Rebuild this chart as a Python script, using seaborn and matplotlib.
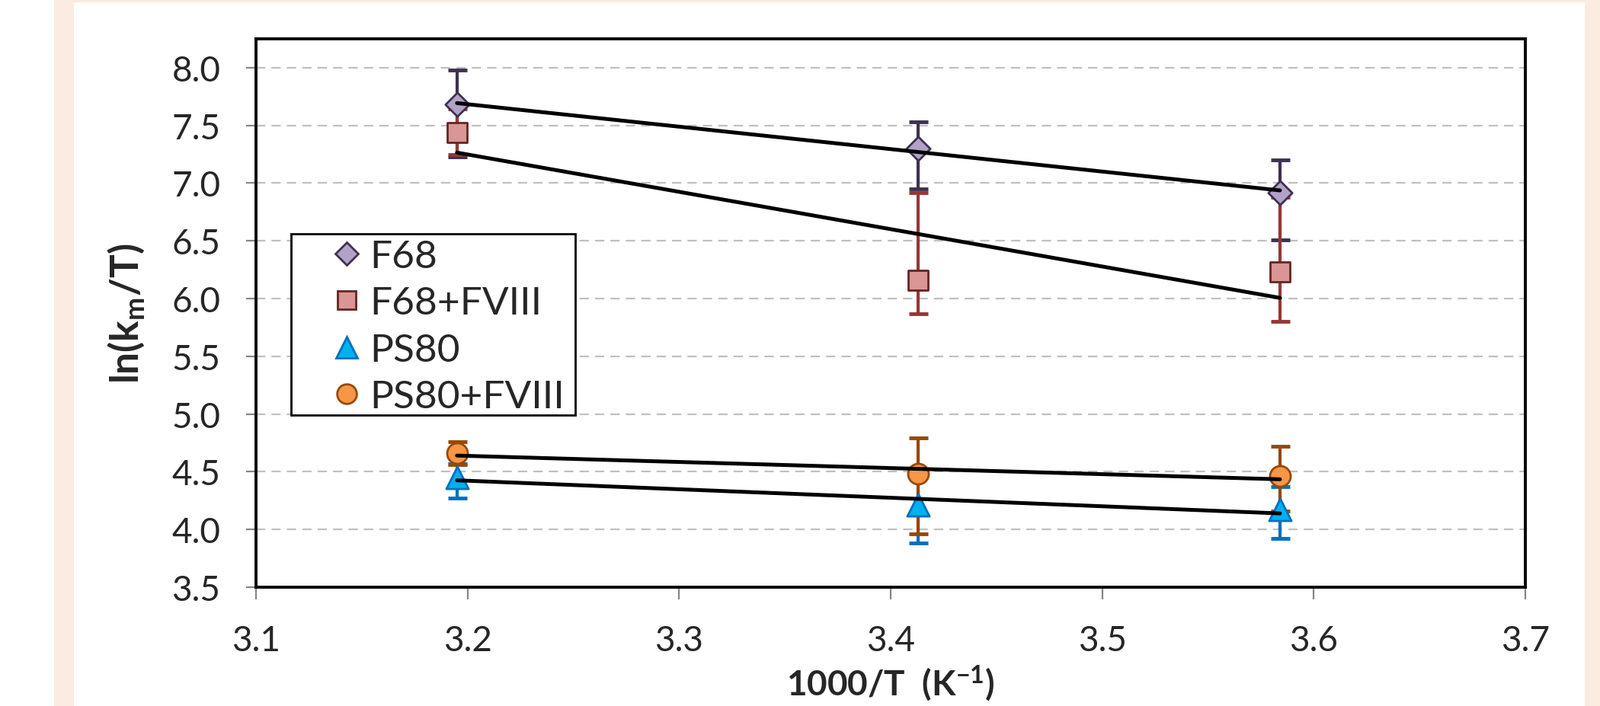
import numpy as np
import matplotlib
matplotlib.use("Agg")
import matplotlib.pyplot as plt
from matplotlib.patches import Rectangle
from matplotlib.lines import Line2D
import seaborn as sns

# ---------------- data ----------------
inv_T = [3.195, 3.413, 3.584]
series_names = ["F68", "F68+FVIII", "PS80", "PS80+FVIII"]

f68 = [7.68, 7.30, 6.92]
f68_err_lo = [0.45, 0.35, 0.41]
f68_err_hi = [0.30, 0.23, 0.28]

f68_fviii = [7.44, 6.16, 6.23]
f68_fviii_err_lo = [0.19, 0.29, 0.43]
f68_fviii_err_hi = [0.20, 0.76, 0.65]

ps80 = [4.45, 4.21, 4.17]
ps80_err_lo = [0.18, 0.33, 0.25]
ps80_err_hi = [0.12, 0.25, 0.20]

ps80_fviii = [4.66, 4.48, 4.46]
ps80_fviii_err_lo = [0.10, 0.52, 0.30]
ps80_fviii_err_hi = [0.10, 0.31, 0.26]

x_ticks = [3.1, 3.2, 3.3, 3.4, 3.5, 3.6, 3.7]
y_ticks = [3.5, 4.0, 4.5, 5.0, 5.5, 6.0, 6.5, 7.0, 7.5, 8.0]

x_label = "1000/T  (K$^{-1}$)"
y_label = "ln(k$_{\\mathrm{m}}$/T)"

# ---------------- style ----------------
sns.set_style("white")
plt.rcParams["font.family"] = ["Lato", "DejaVu Sans"]
plt.rcParams["mathtext.fontset"] = "custom"
plt.rcParams["mathtext.rm"] = "Lato:bold"
plt.rcParams["mathtext.bf"] = "Lato:bold"
plt.rcParams["mathtext.it"] = "Lato:bold"
plt.rcParams["mathtext.default"] = "regular"

styles = [
    dict(marker="D", ms=16.0, face="#b3a2c7", edge="#3f3151", err="#3f3151"),
    dict(marker="s", ms=18.5, face="#d99694", edge="#632523", err="#953735"),
    dict(marker="^", ms=21.0, face="#00b0f0", edge="#0070c0", err="#0070c0"),
    dict(marker="o", ms=19.5, face="#f79646", edge="#984807", err="#984807"),
]
values = [f68, f68_fviii, ps80, ps80_fviii]
errs = [(f68_err_lo, f68_err_hi), (f68_fviii_err_lo, f68_fviii_err_hi),
        (ps80_err_lo, ps80_err_hi), (ps80_fviii_err_lo, ps80_fviii_err_hi)]

W, H = 2100, 928
fig = plt.figure(figsize=(W / 100, H / 100), dpi=100)
fig.patch.set_facecolor("white")

# peach frame of the original slide
fig.patches.append(Rectangle((71 / W, 0), 1 - 71 / W, 1, transform=fig.transFigure,
                             facecolor="#fcebe1", edgecolor="none", zorder=-3))
fig.patches.append(Rectangle((97 / W, 0), (2080 - 97) / W, 1 - 4 / H, transform=fig.transFigure,
                             facecolor="white", edgecolor="none", zorder=-2))

ax = fig.add_axes([336 / W, 1 - 772 / H, (2002 - 336) / W, (772 - 52) / H])
ax.set_facecolor("white")

# error bars
for vals, (lo, hi), st in zip([ps80, ps80_fviii, f68, f68_fviii],
                              [errs[2], errs[3], errs[0], errs[1]],
                              [styles[2], styles[3], styles[0], styles[1]]):
    ax.errorbar(inv_T, vals, yerr=[lo, hi], fmt="none", ecolor=st["err"],
                elinewidth=3.0, capsize=9, capthick=3.5, zorder=2)

# markers
for vals, st, name in zip(values, styles, series_names):
    sns.scatterplot(x=inv_T, y=vals, marker=st["marker"], s=st["ms"] ** 2,
                    color=st["face"], edgecolor=st["edge"], linewidth=2.0,
                    zorder=3, ax=ax, legend=False)

# linear trendlines
for vals in values:
    sns.regplot(x=inv_T, y=vals, scatter=False, ci=None, truncate=True, ax=ax,
                line_kws=dict(color="black", lw=3.6, zorder=4, solid_capstyle="round"))

ax.set_xlim(3.1, 3.7)
ax.set_ylim(3.5, 8.25)
ax.set_xticks(x_ticks)
ax.set_xticklabels([f"{v:.1f}" for v in x_ticks])
ax.set_yticks(y_ticks)
ax.set_yticklabels([f"{v:.1f}" for v in y_ticks])

ax.yaxis.grid(True, color="#c0c0c0", lw=1.6, linestyle=(0, (5.5, 3.6)))
ax.xaxis.grid(False)
ax.set_axisbelow(True)

for sp in ax.spines.values():
    sp.set_color("black")
    sp.set_linewidth(2.8)
    sp.set_visible(True)

ax.tick_params(axis="y", direction="out", length=9.5, width=1.6, color="#868686",
               labelsize=33, pad=24, left=True)
ax.tick_params(axis="x", direction="out", length=11.5, width=1.6, color="#868686",
               labelsize=33, pad=24, bottom=True)

ax.set_xlabel(x_label, fontsize=33, fontweight="bold", labelpad=6)
ax.set_ylabel(y_label, fontsize=37, fontweight="bold", labelpad=24)

# legend box
fig.patches.append(Rectangle((382 / W, 1 - 546 / H), (755 - 382) / W, (546 - 308) / H,
                             transform=fig.transFigure, facecolor="white",
                             edgecolor="black", lw=2.0, zorder=1))
handles = [Line2D([], [], linestyle="none", marker=st["marker"], markersize=st["ms"] * 0.95,
                  markerfacecolor=st["face"], markeredgecolor=st["edge"], markeredgewidth=2.0)
           for st in styles]
leg = fig.legend(handles, series_names, loc="center left",
                 bbox_to_anchor=(434 / W, 1 - 430 / H), frameon=False,
                 borderpad=0, borderaxespad=0, handlelength=0.8, handletextpad=0.2,
                 labelspacing=0.3, fontsize=37)
leg.set_zorder(5)

fig.savefig("out.png", dpi=100, facecolor=fig.get_facecolor())
